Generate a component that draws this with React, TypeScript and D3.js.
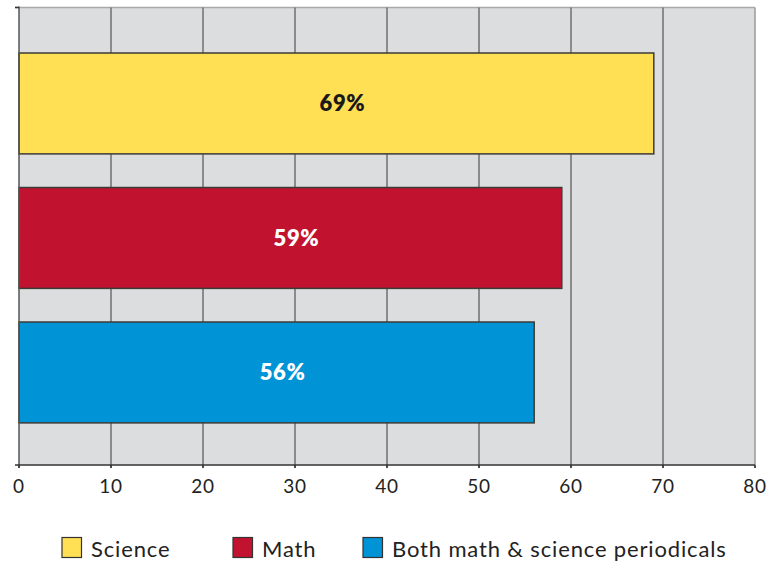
import React from "react";
import * as d3 from "d3";

const categories = ["Science", "Math", "Both math & science periodicals"];
const values = [69, 59, 56];
const colors = ["#FFE055", "#C1132F", "#0093D6"];
const labelColors = ["#1a1a1a", "#ffffff", "#ffffff"];
const xTicks = [0, 10, 20, 30, 40, 50, 60, 70, 80];

const W = 769;
const H = 565;
const FONT = "Lato, 'Open Sans', sans-serif";

export default function App() {
  const left = 19;
  const right = 755;
  const top = 7.5;
  const bottom = 465;

  const x = d3.scaleLinear().domain([0, 80]).range([left, right]);
  const y = d3
    .scaleBand<string>()
    .domain(categories)
    .range([36.2, 439.7])
    .paddingInner(0.25)
    .paddingOuter(0.125);

  const legendX = [62, 233, 363];

  return (
    <svg
      width={W}
      height={H}
      style={{ position: "absolute", left: 0, top: 0, background: "#fff" }}
    >
      {/* plot background */}
      <rect x={left} y={top} width={right - left} height={bottom - top} fill="#DCDDDF" />
      {/* top border */}
      <line x1={left - 4} x2={right} y1={top} y2={top} stroke="#a9a9a9" strokeWidth={1.5} />
      {/* vertical gridlines */}
      {xTicks.slice(1).map((t) => (
        <line
          key={t}
          x1={x(t)}
          x2={x(t)}
          y1={top}
          y2={bottom + 3}
          stroke={t === 80 ? "#9a9a9a" : "#6f6f6f"}
          strokeWidth={1.5}
        />
      ))}
      {/* bars */}
      {categories.map((c, i) => (
        <rect
          key={c}
          x={x(0)}
          y={y(c)!}
          width={x(values[i]) - x(0)}
          height={y.bandwidth()}
          fill={colors[i]}
          stroke="#3d3b36"
          strokeWidth={1.5}
        />
      ))}
      {/* value labels */}
      {categories.map((c, i) => (
        <text
          key={c}
          x={x(values[i] / 2) + 6}
          y={y(c)! + y.bandwidth() / 2}
          dy="0.36em"
          textAnchor="middle"
          fontFamily={FONT}
          fontWeight={800}
          fontSize={22}
          letterSpacing={0.6}
          fill={labelColors[i]}
        >
          {values[i]}%
        </text>
      ))}
      {/* left axis */}
      <line x1={left} x2={left} y1={top - 1} y2={bottom + 3} stroke="#555" strokeWidth={1.5} />
      <line x1={left - 4} x2={left} y1={top} y2={top} stroke="#333" strokeWidth={1.5} />
      {/* bottom axis */}
      <line x1={left - 4} x2={right} y1={bottom} y2={bottom} stroke="#333" strokeWidth={1.5} />
      {xTicks.map((t) => (
        <g key={t}>
          <line x1={x(t)} x2={x(t)} y1={bottom} y2={bottom + 3} stroke="#333" strokeWidth={1.5} />
          <text
            x={x(t)}
            y={493}
            textAnchor="middle"
            fontFamily={FONT}
            fontSize={19}
            letterSpacing={0.8}
            fill="#222"
          >
            {t}
          </text>
        </g>
      ))}
      {/* legend */}
      {categories.map((c, i) => (
        <g key={c}>
          <rect
            x={legendX[i]}
            y={537.5}
            width={19.5}
            height={20}
            fill={colors[i]}
            stroke="#333"
            strokeWidth={1.2}
          />
          <text
            x={legendX[i] + 29}
            y={557}
            fontFamily={FONT}
            fontSize={22}
            letterSpacing={0.85}
            fill="#222"
          >
            {c}
          </text>
        </g>
      ))}
    </svg>
  );
}
